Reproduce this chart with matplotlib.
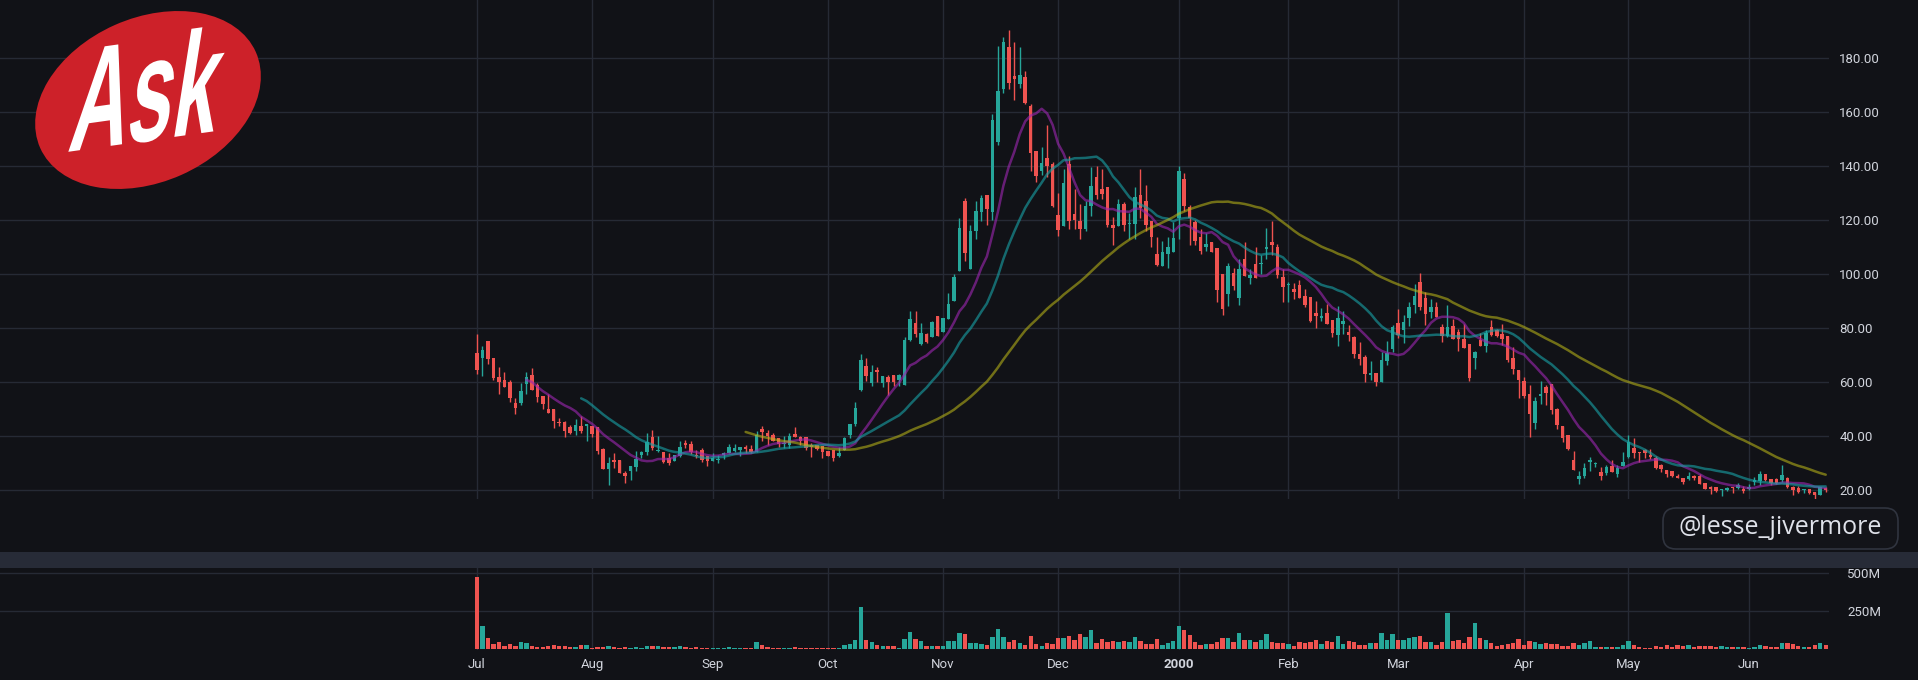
import numpy as np
import pandas as pd
import matplotlib
matplotlib.use("Agg")
import matplotlib.pyplot as plt
from matplotlib.patches import Ellipse, FancyBboxPatch, Rectangle
from matplotlib import patheffects
from matplotlib.transforms import Affine2D

# ---------------- data ----------------
opens = [70.9, 69.1, 75.3, 69.0, 62.0, 60.9, 60.1, 52.3, 52.3, 59.5,
         62.7, 59.0, 54.9, 50.1, 50.1, 45.4, 45.3, 43.5, 42.0, 43.8,
         44.0, 43.8, 43.5, 35.3, 28.0, 31.2, 31.2, 26.4, 27.2, 28.6,
         33.1, 34.3, 39.8, 34.5, 34.2, 32.0, 30.9, 32.7, 37.5, 37.2,
         33.1, 34.9, 32.7, 30.9, 31.2, 33.1, 33.8, 34.6, 34.9, 36.0,
         35.3, 34.2, 42.7, 41.2, 40.5, 39.4, 37.0, 36.8, 40.9, 39.8,
         39.8, 36.8, 36.8, 36.4, 34.6, 34.9, 32.7, 34.9, 40.5, 44.6,
         57.2, 66.0, 59.8, 64.6, 59.8, 62.0, 62.7, 60.9, 59.0, 75.7,
         82.0, 74.2, 77.9, 76.8, 84.6, 78.6, 83.5, 90.1, 101.2, 127.2,
         102.0, 116.0, 123.1, 129.4, 123.1, 149.0, 168.5, 184.1, 173.3, 170.4,
         173.0, 162.2, 145.6, 138.1, 143.0, 140.7, 121.9, 117.8, 140.7, 122.2,
         119.6, 116.7, 125.2, 135.9, 131.5, 132.2, 118.1, 117.8, 126.0, 118.5,
         118.5, 129.3, 127.1, 119.6, 107.7, 103.2, 107.7, 108.4, 120.7, 135.3,
         124.8, 119.3, 114.0, 110.3, 111.8, 109.6, 100.2, 92.8, 100.6, 91.3,
         105.5, 98.8, 104.0, 103.8, 109.2, 111.8, 110.3, 99.1, 95.9, 94.7,
         96.1, 92.0, 91.6, 85.7, 83.8, 85.7, 83.1, 77.5, 81.6, 78.6,
         76.8, 70.5, 69.4, 62.7, 63.5, 60.1, 67.9, 72.3, 82.0, 79.4,
         83.8, 88.6, 97.2, 91.2, 86.0, 87.9, 80.5, 77.2, 80.9, 78.6,
         76.0, 74.2, 69.0, 75.7, 73.5, 80.5, 79.4, 77.9, 77.2, 69.0,
         64.6, 60.5, 55.7, 44.9, 55.0, 58.3, 59.4, 50.1, 43.8, 40.5,
         31.2, 24.2, 25.3, 30.5, 29.6, 26.8, 26.4, 29.0, 26.0, 29.0,
         32.3, 35.7, 34.2, 35.0, 33.1, 32.0, 29.4, 27.5, 27.2, 25.3,
         24.6, 24.2, 25.3, 25.3, 22.7, 21.2, 21.2, 20.0, 20.1, 20.9,
         20.9, 20.5, 20.5, 23.1, 23.5, 26.0, 24.2, 24.2, 23.8, 24.6,
         21.2, 20.9, 20.0, 20.5, 19.4, 18.3, 20.9]
highs = [77.9, 73.5, 75.3, 69.0, 65.7, 63.8, 60.9, 54.2, 59.6, 63.8,
         65.3, 59.6, 54.9, 55.7, 50.1, 46.8, 45.7, 44.2, 46.4, 47.5,
         44.4, 43.8, 43.5, 35.7, 32.3, 33.9, 31.2, 27.2, 29.0, 34.6,
         34.6, 41.2, 42.3, 40.1, 34.2, 33.7, 33.1, 38.3, 38.6, 38.3,
         34.9, 35.7, 32.7, 33.9, 33.1, 34.2, 37.2, 37.2, 36.0, 36.8,
         36.8, 42.0, 43.8, 42.3, 41.2, 39.4, 40.1, 41.2, 43.5, 40.1,
         39.8, 37.5, 36.8, 36.4, 34.6, 34.9, 36.0, 39.8, 44.6, 52.7,
         70.5, 69.0, 66.4, 65.7, 62.3, 62.7, 62.7, 63.1, 76.8, 86.4,
         86.4, 82.0, 78.3, 82.7, 84.6, 83.8, 93.1, 100.1, 120.9, 128.3,
         118.3, 127.2, 129.4, 129.4, 159.4, 184.5, 187.8, 190.4, 185.9, 184.1,
         175.2, 163.0, 145.6, 147.0, 155.2, 141.5, 130.0, 138.9, 144.0, 131.5,
         125.9, 127.0, 139.6, 140.0, 138.9, 132.2, 121.1, 127.8, 126.7, 122.6,
         132.3, 139.0, 133.0, 119.6, 113.7, 112.5, 113.7, 119.3, 140.1, 137.5,
         125.6, 120.0, 116.6, 115.2, 111.8, 109.6, 100.2, 104.3, 102.5, 105.8,
         111.8, 102.1, 110.3, 107.0, 117.0, 119.6, 111.4, 102.1, 97.3, 96.9,
         98.0, 94.6, 91.6, 90.1, 87.5, 89.0, 83.1, 88.3, 86.4, 81.2,
         77.2, 74.9, 70.1, 67.9, 63.5, 71.2, 75.3, 81.2, 87.2, 84.9,
         89.8, 96.4, 100.5, 93.5, 90.9, 89.8, 81.6, 88.6, 83.5, 79.8,
         81.6, 74.2, 71.6, 78.3, 79.4, 83.1, 79.8, 81.6, 77.2, 73.1,
         64.6, 62.0, 59.0, 54.6, 60.5, 59.0, 59.4, 50.5, 43.8, 40.5,
         34.6, 27.2, 30.1, 32.3, 30.5, 28.6, 29.4, 31.2, 29.4, 34.2,
         40.5, 39.4, 34.2, 35.3, 35.3, 32.7, 29.8, 27.5, 27.2, 26.0,
         24.6, 26.8, 25.7, 26.0, 22.7, 21.6, 21.2, 20.5, 21.2, 21.2,
         22.7, 21.6, 22.3, 24.9, 27.2, 26.0, 24.2, 24.6, 29.4, 25.0,
         21.6, 21.6, 20.5, 20.5, 19.4, 21.2, 21.2]
lows = [63.2, 62.5, 66.9, 60.9, 55.8, 58.3, 52.8, 48.4, 51.7, 55.8,
        57.2, 52.7, 50.1, 48.6, 43.1, 43.8, 39.8, 40.9, 40.5, 41.2,
        38.3, 39.8, 33.5, 28.0, 22.0, 28.3, 26.4, 22.7, 23.9, 27.2,
        32.0, 33.1, 35.0, 34.2, 30.1, 29.4, 30.9, 32.3, 35.7, 33.5,
        32.0, 30.5, 29.0, 30.9, 30.1, 31.6, 33.8, 34.2, 32.7, 33.8,
        33.8, 34.2, 38.3, 36.8, 38.3, 36.0, 35.7, 35.7, 39.8, 36.8,
        35.0, 32.3, 35.0, 32.1, 32.7, 30.9, 32.3, 34.9, 39.4, 43.8,
        56.8, 60.5, 58.6, 60.1, 58.3, 55.3, 58.6, 58.6, 59.0, 75.4,
        76.8, 73.8, 74.6, 76.8, 77.2, 78.6, 83.5, 90.1, 101.2, 104.9,
        102.0, 113.1, 119.8, 118.3, 120.1, 147.9, 167.0, 168.5, 164.4, 168.9,
        163.0, 138.1, 134.1, 136.7, 135.9, 124.8, 114.1, 117.8, 116.7, 116.7,
        113.0, 115.9, 121.5, 127.8, 127.8, 117.4, 110.7, 117.8, 115.9, 112.9,
        112.9, 120.7, 115.9, 110.3, 102.9, 102.9, 102.5, 108.4, 112.9, 123.4,
        110.7, 110.7, 107.7, 108.8, 108.1, 89.8, 85.0, 88.3, 94.3, 88.7,
        99.5, 96.5, 98.8, 100.2, 105.5, 107.0, 98.8, 89.8, 89.8, 90.9,
        91.3, 87.9, 82.3, 80.1, 82.7, 81.6, 76.8, 73.5, 77.9, 75.3,
        69.0, 66.4, 60.1, 60.9, 58.6, 60.1, 66.4, 71.2, 76.4, 74.6,
        80.9, 85.7, 86.8, 81.2, 83.8, 84.2, 74.9, 76.8, 76.0, 71.6,
        72.7, 60.5, 64.9, 73.5, 71.2, 77.2, 76.8, 73.8, 67.5, 63.1,
        54.2, 54.2, 39.8, 42.7, 52.0, 51.6, 48.3, 42.7, 37.9, 34.9,
        27.5, 22.3, 24.6, 27.2, 28.6, 23.8, 25.7, 26.8, 24.9, 29.0,
        32.0, 32.0, 30.5, 32.0, 31.6, 27.9, 26.8, 24.9, 24.9, 24.6,
        22.3, 23.8, 23.8, 22.3, 20.5, 18.6, 19.4, 17.9, 19.8, 19.1,
        20.5, 19.1, 20.1, 22.0, 22.0, 23.5, 22.0, 22.3, 23.1, 20.9,
        18.3, 19.1, 19.1, 18.6, 16.4, 18.3, 19.4]
closes = [64.6, 72.0, 68.6, 61.7, 60.1, 58.3, 54.2, 50.5, 56.8, 62.0,
          57.2, 54.6, 52.0, 48.6, 45.7, 44.9, 42.0, 41.2, 44.2, 42.0,
          44.4, 40.9, 34.6, 28.0, 30.1, 30.5, 26.4, 25.3, 29.0, 31.7,
          34.3, 38.0, 35.7, 34.7, 30.5, 30.1, 33.1, 36.0, 36.8, 34.2,
          32.7, 31.3, 30.9, 32.0, 31.5, 33.8, 36.1, 35.7, 36.0, 35.3,
          34.2, 40.5, 41.6, 40.1, 38.3, 37.2, 37.2, 40.1, 39.8, 38.3,
          35.7, 36.0, 35.3, 34.2, 32.7, 32.0, 33.8, 39.4, 44.6, 50.5,
          68.3, 62.3, 63.8, 63.8, 62.3, 60.1, 60.1, 62.7, 75.7, 83.5,
          77.9, 78.3, 74.9, 82.3, 77.2, 83.8, 89.0, 99.0, 117.2, 107.9,
          116.0, 123.5, 128.3, 124.2, 157.2, 167.9, 185.9, 170.7, 172.2, 173.7,
          163.3, 144.8, 136.3, 141.1, 140.0, 125.2, 116.3, 133.7, 119.6, 120.0,
          116.7, 125.2, 132.6, 129.3, 129.6, 118.1, 117.0, 126.0, 118.1, 118.9,
          128.6, 124.5, 118.1, 114.0, 103.6, 108.1, 110.3, 113.3, 138.3, 125.2,
          120.7, 112.2, 108.8, 111.4, 108.1, 94.3, 87.2, 103.2, 95.8, 102.1,
          99.5, 99.9, 98.8, 104.0, 110.3, 110.7, 99.9, 95.4, 96.2, 93.5,
          91.3, 88.6, 82.7, 84.6, 84.6, 81.6, 78.3, 83.8, 82.7, 77.5,
          70.5, 68.6, 63.1, 63.5, 60.1, 68.3, 70.9, 80.5, 77.5, 82.3,
          87.9, 92.0, 87.9, 85.3, 87.9, 84.2, 77.2, 80.5, 76.0, 76.0,
          72.7, 61.6, 71.2, 73.5, 78.3, 77.5, 77.2, 76.0, 68.3, 64.9,
          60.9, 54.9, 48.3, 53.1, 55.7, 56.0, 49.8, 44.2, 39.4, 35.3,
          27.5, 25.3, 28.3, 31.2, 29.8, 25.3, 28.6, 26.8, 28.3, 30.5,
          37.9, 33.8, 33.8, 33.8, 32.3, 28.3, 27.9, 26.0, 25.3, 24.6,
          23.1, 25.3, 24.6, 22.3, 20.5, 20.5, 19.8, 20.2, 20.9, 20.7,
          22.0, 19.8, 21.2, 23.8, 26.0, 23.8, 22.7, 22.7, 25.7, 21.2,
          20.1, 19.4, 20.2, 19.0, 18.3, 21.2, 20.1]
volume_m = [476, 154, 78, 39, 50, 24, 37, 24, 50, 43,
            24, 17, 17, 24, 30, 24, 24, 17, 17, 30,
            30, 13, 17, 17, 24, 17, 13, 17, 13, 17,
            13, 24, 24, 24, 17, 17, 17, 24, 17, 11,
            17, 11, 11, 11, 11, 11, 17, 11, 11, 11,
            7, 50, 30, 17, 11, 11, 11, 11, 17, 11,
            11, 11, 7, 11, 11, 11, 11, 30, 37, 63,
            278, 63, 50, 30, 24, 24, 24, 11, 70, 115,
            70, 57, 24, 24, 24, 24, 57, 57, 109, 102,
            43, 43, 37, 30, 83, 135, 83, 50, 63, 43,
            30, 89, 37, 24, 43, 37, 76, 76, 89, 63,
            102, 83, 128, 43, 70, 50, 57, 50, 57, 50,
            83, 57, 37, 37, 70, 30, 43, 57, 154, 128,
            96, 50, 30, 37, 37, 50, 78, 78, 50, 109,
            63, 63, 50, 63, 102, 50, 43, 43, 37, 24,
            50, 43, 50, 63, 37, 57, 50, 89, 37, 57,
            50, 30, 30, 43, 43, 109, 63, 102, 63, 63,
            76, 83, 89, 50, 50, 30, 50, 239, 57, 63,
            43, 83, 174, 76, 63, 43, 24, 30, 37, 43,
            70, 30, 57, 50, 37, 43, 37, 37, 24, 24,
            43, 30, 43, 57, 17, 17, 17, 17, 17, 30,
            57, 30, 17, 11, 11, 24, 17, 30, 17, 30,
            24, 30, 17, 24, 24, 24, 17, 24, 17, 17,
            17, 17, 11, 17, 30, 24, 17, 17, 43, 43,
            37, 24, 17, 17, 30, 43, 30]

month_labels = ["Jul", "Aug", "Sep", "Oct", "Nov", "Dec", "2000",
                "Feb", "Mar", "Apr", "May", "Jun"]
month_start = [0, 21, 43, 64, 85, 106, 128, 148, 168, 191, 210, 232]
price_ticks = [20, 40, 60, 80, 100, 120, 140, 160, 180]
volume_ticks = [250, 500]
volume_tick_labels = ["250M", "500M"]
ma_periods = [10, 20, 50]
watermark = "@lesse_jivermore"
logo_text = "Ask"

# ---------------- style ----------------
BG = "#111217"
GRID = "#262a35"
TXT = "#d1d4dc"
UP = "#26a69a"
DN = "#ef5350"
BAND = "#272b37"
MA_COLORS = [("#9c27b0", 0.62), ("#18a0a5", 0.62), ("#b8b418", 0.58)]
FONT = ["Roboto", "DejaVu Sans"]

W, H = 1918, 680
fig = plt.figure(figsize=(W / 100, H / 100), dpi=100, facecolor=BG)


def frac(x0, y0, x1, y1):
    return [x0 / W, 1 - y1 / H, (x1 - x0) / W, (y1 - y0) / H]


o = np.array(opens); h = np.array(highs); l = np.array(lows); c = np.array(closes)
v = np.array(volume_m, dtype=float)
n = len(c)
x = np.arange(n)
up = c >= o
cols = np.where(up, UP, DN)

# ---------------- price pane ----------------
ax = fig.add_axes(frac(0, 0, 1829, 499))
ax.set_facecolor(BG)
ax.set_xlim(-87.0, 246.6)
ax.set_ylim(16.78, 201.6)
for s in ax.spines.values():
    s.set_visible(False)

ax.vlines(x, l, h, colors=cols, linewidth=1.0, zorder=2)
body_lo = np.minimum(o, c)
body_h = np.maximum(np.abs(c - o), 0.4)
ax.bar(x, body_h, bottom=body_lo, width=0.64, color=cols, linewidth=0, zorder=3)

cs = pd.Series(c)
for p, (col, a) in zip(ma_periods, MA_COLORS):
    ax.plot(x, cs.rolling(p).mean(), color=col, alpha=a, lw=1.8, zorder=4,
            solid_capstyle="round")

ax.set_yticks(price_ticks)
ax.set_yticklabels([f"{t:.2f}" for t in price_ticks])
ax.yaxis.tick_right()
ax.tick_params(axis="y", length=0, pad=7.5, labelcolor=TXT, labelsize=9.5)
ax.set_xticks(month_start)
ax.tick_params(axis="x", length=0, labelbottom=False)
ax.grid(True, color=GRID, lw=1.0, zorder=0)
for t in ax.get_yticklabels():
    t.set_fontfamily(FONT)

# ---------------- volume pane ----------------
vax = fig.add_axes(frac(0, 568, 1829, 650), sharex=ax)
vax.set_facecolor(BG)
for s in vax.spines.values():
    s.set_visible(False)
vax.bar(x, v, width=0.8, color=cols, linewidth=0, zorder=3)
vax.set_ylim(-3.3, 532)
vax.set_yticks(volume_ticks)
vax.set_yticklabels(volume_tick_labels)
vax.yaxis.tick_right()
vax.tick_params(axis="y", length=0, pad=13, labelcolor=TXT, labelsize=9.5)
vax.set_xticks(month_start)
vax.set_xticklabels(month_labels)
vax.tick_params(axis="x", length=0, pad=5.5, labelcolor=TXT, labelsize=9.5)
vax.grid(True, color=GRID, lw=1.0, zorder=0)
for t in vax.get_yticklabels() + vax.get_xticklabels():
    t.set_fontfamily(FONT)
vax.get_xticklabels()[6].set_fontweight("bold")

# ---------------- overlay (band, watermark, logo) ----------------
lax = fig.add_axes([0, 0, 1, 1], zorder=10)
lax.set_xlim(0, W)
lax.set_ylim(H, 0)
lax.axis("off")
lax.patch.set_visible(False)

lax.add_patch(Rectangle((0, 552), W, 16, facecolor=BAND, edgecolor="none"))

lax.add_patch(FancyBboxPatch((1663, 508), 235, 41,
                             boxstyle="round,pad=0,rounding_size=13",
                             facecolor="#131419", edgecolor="#30343f", lw=1.2))
lax.text(1780.5, 527.5, watermark, fontsize=18, color="#dfe2ea",
         ha="center", va="center", family=["Open Sans", "DejaVu Sans"])

lax.add_patch(Ellipse((148, 100), 236, 164, angle=-24, facecolor="#cd2129",
                      edgecolor="none"))


class Warp(patheffects.AbstractPathEffect):
    def __init__(self, anchor_fn, sx=1.0, sy=1.0, shear=0.0, rot=0.0):
        super().__init__()
        self.anchor_fn = anchor_fn
        self.sx, self.sy, self.shear, self.rot = sx, sy, shear, rot

    def draw_path(self, renderer, gc, tpath, affine, rgbFace=None):
        cx, cy = self.anchor_fn()
        t = affine + Affine2D().translate(-cx, -cy).scale(self.sx, self.sy) \
            .skew_deg(self.shear, 0).rotate_deg(self.rot).translate(cx, cy)
        renderer.draw_path(gc, tpath, t, rgbFace)


LOGO_XY = (146, 103)
lax.text(LOGO_XY[0], LOGO_XY[1], logo_text, fontsize=104, fontweight="bold",
         color="white", ha="center", va="center",
         family=["Liberation Sans", "DejaVu Sans"],
         path_effects=[Warp(lambda: lax.transData.transform(LOGO_XY),
                            sx=0.56, sy=1.0, shear=17, rot=8)])

fig.savefig("out.png", dpi=100, facecolor=BG)
